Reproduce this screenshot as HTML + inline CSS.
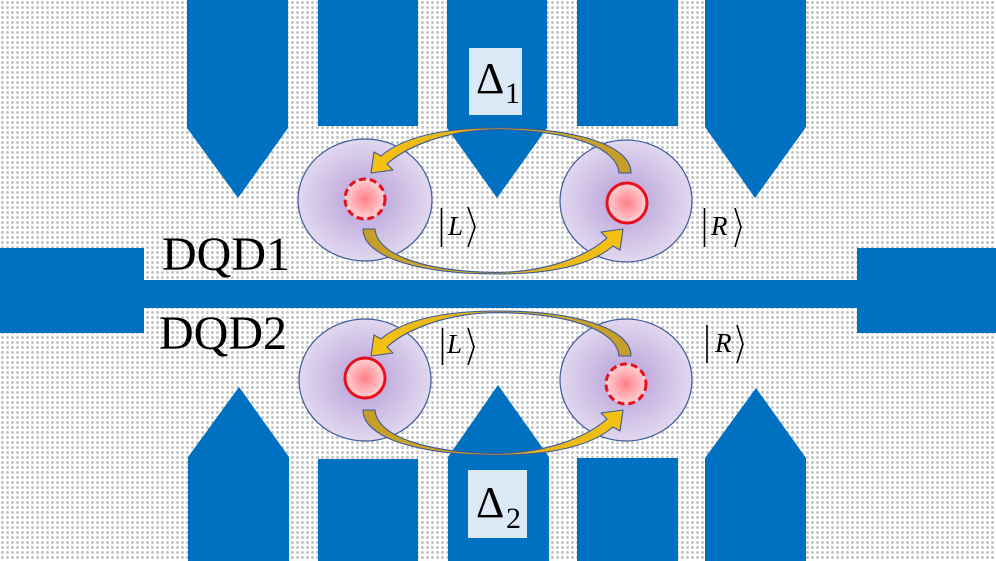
<!DOCTYPE html>
<html>
<head>
<meta charset="utf-8">
<style>
  html,body{margin:0;padding:0;background:#fff;}
  svg{display:block;}
  text{font-family:"Liberation Serif","Times New Roman",serif;}
</style>
</head>
<body>
<svg width="996" height="561" viewBox="0 0 996 561" xmlns="http://www.w3.org/2000/svg">
  <defs>
    <pattern id="dots" width="5" height="5" patternUnits="userSpaceOnUse">
      <rect width="5" height="5" fill="#ffffff"/>
      <circle cx="2.5" cy="2.5" r="1.45" fill="#c2c2c2"/>
    </pattern>
    <radialGradient id="pu" cx="50%" cy="50%" r="50%">
      <stop offset="0" stop-color="#b59cd7"/>
      <stop offset="1" stop-color="#e1d8ef"/>
    </radialGradient>
    <radialGradient id="rd" cx="50%" cy="50%" r="50%">
      <stop offset="0" stop-color="#ff7e86"/>
      <stop offset="1" stop-color="#ffd3d6"/>
    </radialGradient>
    <linearGradient id="gold" gradientUnits="userSpaceOnUse" x1="371" y1="0" x2="631" y2="0">
      <stop offset="0" stop-color="#f6c20f"/>
      <stop offset="0.5" stop-color="#d9ae22"/>
      <stop offset="1" stop-color="#c49d2a"/>
    </linearGradient>
    <path id="arr" d="M 631 173 C 631 145 575 128 497 128 C 440 128 402 138 381 156 L 374 152 L 371 173 L 393 170 L 387 164 C 407 146 447 130 497 129.6 C 565 130 617 146 619 173 Z"
      fill="url(#gold)" stroke="#3d5a96" stroke-width="1.1" stroke-linejoin="round"/>
  </defs>

  <!-- background -->
  <rect width="996" height="561" fill="url(#dots)"/>

  <!-- top gates -->
  <g fill="#0070c0">
    <polygon points="187,0 288,0 288,128 238,198 187,128"/>
    <rect x="318" y="0" width="100" height="126"/>
    <polygon points="447,0 547,0 547,128 497,198 447,128"/>
    <rect x="577" y="0" width="101" height="126"/>
    <polygon points="705,0 806,0 806,127 755,198 705,127"/>
  </g>

  <!-- bottom gates -->
  <g fill="#0070c0">
    <polygon points="188,561 289,561 289,457 239,387 188,457"/>
    <rect x="318" y="459" width="100" height="102"/>
    <polygon points="448,561 549,561 549,457 498,385 448,457"/>
    <rect x="577" y="458" width="101" height="103"/>
    <polygon points="705,561 806,561 806,458 756,388 705,458"/>
  </g>

  <!-- middle bar -->
  <g fill="#0070c0">
    <rect x="0" y="248" width="144" height="85"/>
    <rect x="144" y="280" width="713" height="28"/>
    <rect x="857" y="248" width="139" height="85"/>
  </g>

  <!-- delta boxes -->
  <rect x="469" y="48" width="53" height="67" fill="#dce9f6"/>
  <rect x="468" y="470" width="59" height="68" fill="#dce9f6"/>
  <text font-family="Liberation Serif, Times New Roman, serif" x="476" y="93" font-size="44" fill="#000">Δ</text>
  <text font-family="Liberation Serif, Times New Roman, serif" x="505" y="103" font-size="30" fill="#000">1</text>
  <text font-family="Liberation Serif, Times New Roman, serif" x="476" y="517" font-size="44" fill="#000">Δ</text>
  <text font-family="Liberation Serif, Times New Roman, serif" x="506" y="528" font-size="30" fill="#000">2</text>

  <!-- dot ellipses -->
  <g stroke="#3d5a9c" stroke-width="1.2" fill="url(#pu)">
    <ellipse cx="365" cy="200" rx="67" ry="61"/>
    <ellipse cx="626" cy="201" rx="66" ry="61"/>
    <ellipse cx="365" cy="380" rx="66" ry="61"/>
    <ellipse cx="626" cy="380" rx="66" ry="61"/>
  </g>

  <!-- red circles -->
  <g fill="url(#rd)" stroke="#e8101c" stroke-width="3">
    <circle cx="365" cy="199" r="20" stroke-dasharray="7 4"/>
    <circle cx="627" cy="203" r="20"/>
    <circle cx="365" cy="378" r="20"/>
    <circle cx="626" cy="384" r="20" stroke-dasharray="7 4"/>
  </g>

  <!-- curved arrows DQD1 -->
  <use href="#arr"/>
  <g transform="rotate(180 497 201)"><use href="#arr"/></g>

  <!-- curved arrows DQD2 -->
  <g transform="translate(0 183)"><use href="#arr"/></g>
  <g transform="translate(0 181) rotate(180 497 201)"><use href="#arr"/></g>

  <!-- labels DQD -->
  <text font-family="Liberation Serif, Times New Roman, serif" x="162" y="270" font-size="48" fill="#000">DQD1</text>
  <text font-family="Liberation Serif, Times New Roman, serif" x="159" y="349" font-size="48" fill="#000">DQD2</text>

  <!-- ket labels -->
  <g stroke="#000" stroke-width="1.6" fill="none">
    <line x1="441.5" y1="208" x2="441.5" y2="247"/>
    <polyline points="468,207 475,227 468,247"/>
    <line x1="704.5" y1="208" x2="704.5" y2="247"/>
    <polyline points="735,208 741,227 735,247"/>
    <line x1="442.5" y1="328" x2="442.5" y2="365"/>
    <polyline points="468,328 474,347 468,365"/>
    <line x1="707" y1="325" x2="707" y2="363"/>
    <polyline points="737,325 743,344 737,363"/>
  </g>
  <g font-family="Liberation Serif, Times New Roman, serif" font-style="italic" font-size="27" fill="#000">
    <text x="448" y="235">L</text>
    <text x="711" y="235">R</text>
    <text x="447" y="353">L</text>
    <text x="715" y="352">R</text>
  </g>
</svg>
</body>
</html>
